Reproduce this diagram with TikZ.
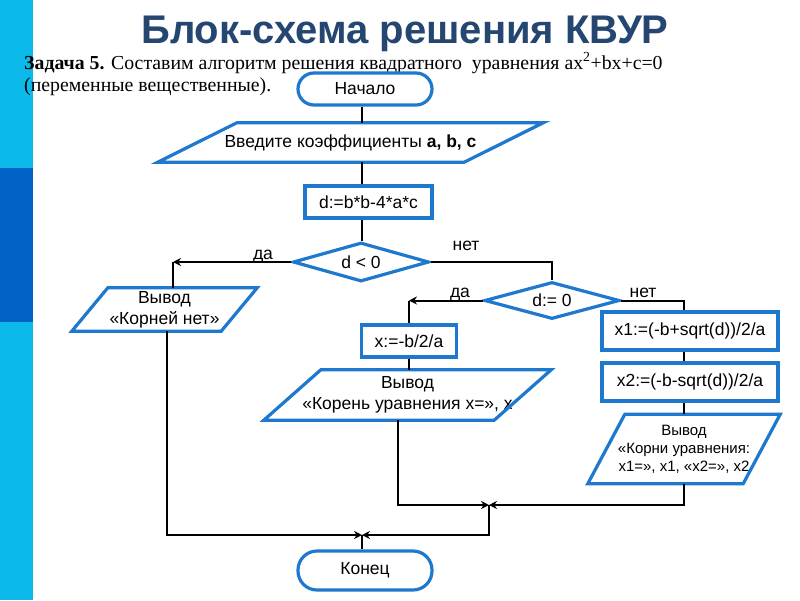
\documentclass[tikz,border=0pt]{standalone}
\usepackage{fontspec}
\setmainfont{Liberation Serif}
\newfontfamily\sansf{Liberation Sans}
\usetikzlibrary{shapes.geometric,arrows.meta,calc}
\definecolor{barcyan}{RGB}{12,185,235}
\definecolor{bardark}{RGB}{0,98,196}
\definecolor{titleblue}{RGB}{36,70,112}
\definecolor{flowblue}{RGB}{30,120,205}
\newcommand\iopara[8]{%
  \node[iotext,minimum width=#4pt,minimum height=#5pt,#8] (#1) at (#2,#3) {#7};
  \draw[blueline] ([xshift=#6pt]#1.north west) -- ([xshift=#6pt]#1.north east) -- ([xshift=-#6pt]#1.south east) -- ([xshift=-#6pt]#1.south west) -- cycle;}
\begin{document}
\begin{tikzpicture}[x=1pt,y=-1pt,
  flow/.style={draw=black,line width=2pt},
  arr/.style={flow,-{Stealth[length=8pt,width=8pt]}},
  blueline/.style={draw=flowblue,line width=3.2pt,line join=miter},
  nfont/.style={font=\sansf\fontsize{17.5}{21}\selectfont},
  sfont/.style={font=\sansf\fontsize{15}{18}\selectfont},
  term/.style={blueline,rectangle,inner sep=0pt,nfont},
  proc/.style={blueline,rectangle,inner sep=0pt,nfont},
  dec/.style={blueline,diamond,aspect=3.5,inner sep=0pt,nfont},
  iotext/.style={rectangle,inner sep=0pt,align=center,nfont},
  lbl/.style={nfont,inner sep=0pt,anchor=base}
]
\useasboundingbox (0,0) rectangle (800,600);
\fill[white] (0,0) rectangle (800,600);
% side bar
\fill[barcyan] (0,0) rectangle (33,600);
\fill[bardark] (0,168) rectangle (33,322);
% title
\node[anchor=base,inner sep=0pt,font=\sansf\bfseries\fontsize{40}{44}\selectfont,text=titleblue] (title) at (405,43) {Блок-схема решения КВУР};
\node[anchor=base west,inner sep=0pt,font=\fontsize{19.8}{22}\selectfont] (task1) at (24,69) {\textbf{Задача 5.} Составим алгоритм решения квадратного \ уравнения ax\textsuperscript{2}+bx+c=0};
\node[anchor=base west,inner sep=0pt,font=\fontsize{19.8}{22}\selectfont] (task2) at (24,91) {(переменные вещественные).};
% nodes
\node[term,rounded corners=16pt,minimum width=134pt,minimum height=32pt] (start) at (365,89) {Начало};
\iopara{inp}{350.5}{142.5}{306}{39}{39.5}{Введите коэффициенты \textbf{a, b, c}}{}
\node[proc,minimum width=127pt,minimum height=32pt] (dcalc) at (368.5,202) {d:=b*b-4*a*c};
\node[dec,minimum width=136pt,minimum height=39pt] (dia1) at (361,262) {d < 0};
\iopara{noroots}{164.5}{309.5}{149}{43}{18}{Вывод\\«Корней нет»}{}
\node[dec,minimum width=135pt,minimum height=37pt] (dia2) at (552,300.5) {d:= 0};
\node[proc,minimum width=95pt,minimum height=32pt] (xcalc) at (409,341) {x:=-b/2/a};
\iopara{oneroot}{407.5}{395}{230}{50}{28.5}{Вывод\\«Корень уравнения x=», x}{}
\node[proc,minimum width=176pt,minimum height=38pt] (x1) at (690,331) {x1:=(-b+sqrt(d))/2/a};
\node[proc,minimum width=176pt,minimum height=38pt] (x2) at (690,382) {x2:=(-b-sqrt(d))/2/a};
\iopara{tworoots}{684}{449}{155}{69}{18.5}{Вывод\\«Корни уравнения:\\x1=», x1, «x2=», x2}{sfont}
\node[term,rounded corners=19pt,minimum width=134pt,minimum height=39pt] (end) at (365,570.5) {Конец};
% labels
\node[lbl] (yes1) at (263,259) {да};
\node[lbl] (no1) at (466,250) {нет};
\node[lbl] (yes2) at (460,297) {да};
\node[lbl] (no2) at (643,297) {нет};
% helper coordinates
\coordinate (colA) at (362,0);
\coordinate (colL) at (167,0);
\coordinate (colM) at (398,0);
\coordinate (colR) at (684,0);
\coordinate (c1) at (173,262);
\coordinate (m1) at (489,505);
\coordinate (m2) at (362,535);
% connectors
\draw[flow] (colA |- start.south) -- (colA |- inp.north);
\draw[flow] (colA |- inp.south) -- (colA |- dcalc.north);
\draw[flow] (colA |- dcalc.south) -- (colA |- dia1.north);
\draw[arr] (dia1.west) -- (c1);
\draw[flow] (c1) -- (c1 |- noroots.north);
\draw[flow] (dia1.east) -| (dia2.north);
\draw[arr] (dia2.west) -- (dia2.west -| xcalc.north);
\draw[flow] (dia2.west -| xcalc.north) -- (xcalc.north);
\draw[flow] (xcalc.south) -- (xcalc.south |- oneroot.north);
\draw[flow] (dia2.east) -| (colR |- x1.north);
\draw[flow] (colR |- x1.south) -- (colR |- x2.north);
\draw[flow] (colR |- x2.south) -- (colR |- tworoots.north);
\draw[arr] (colR |- tworoots.south) |- (m1);
\draw[arr] (colM |- oneroot.south) |- (m1);
\draw[arr] (m1) |- (m2);
\draw[arr] (colL |- noroots.south) |- (m2);
\draw[flow] (m2) -- (m2 |- end.north);
\end{tikzpicture}
\end{document}
